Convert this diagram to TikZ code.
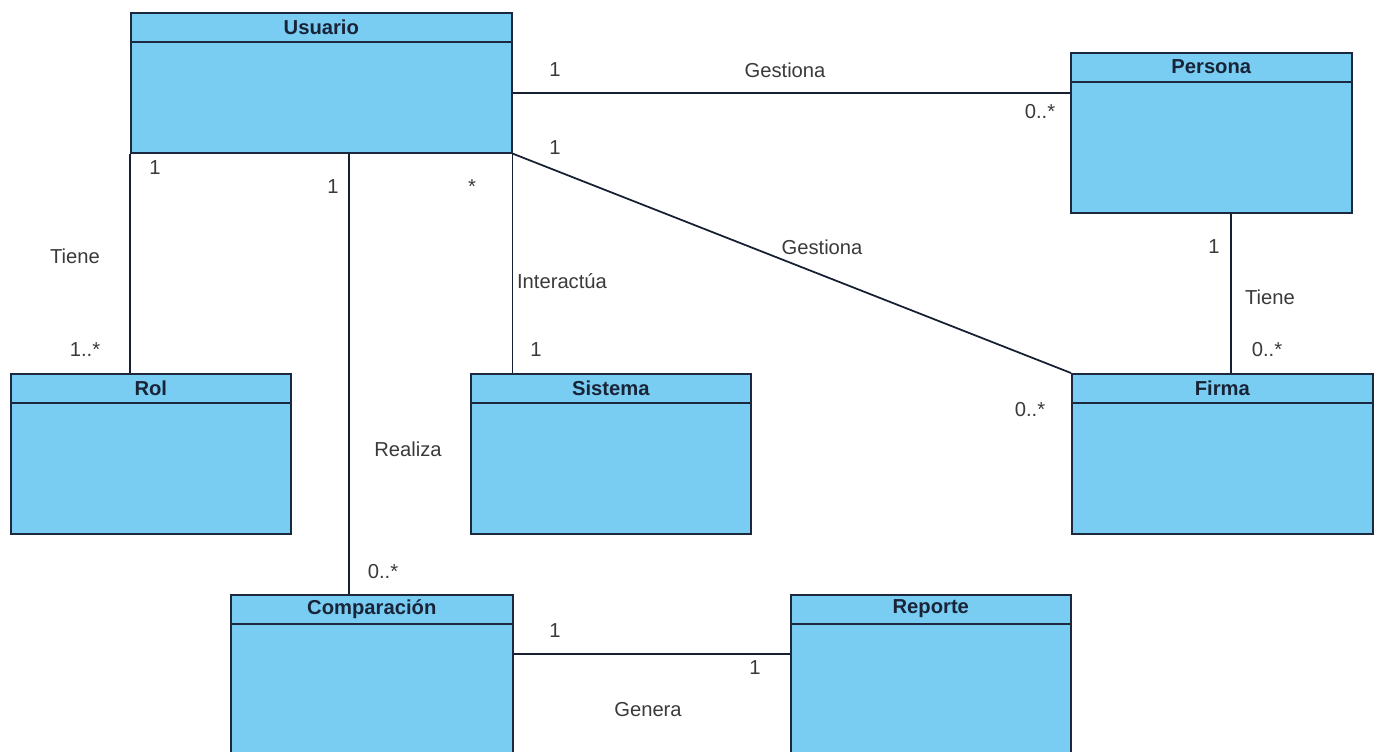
\documentclass[tikz,border=0pt]{standalone}
\usepackage{fontspec}
\setmainfont{Liberation Sans}
\usetikzlibrary{positioning}

\definecolor{relleno}{RGB}{121,205,242}
\definecolor{borde}{RGB}{28,40,62}
\definecolor{texto}{RGB}{58,58,58}

\tikzset{
	clase/.style={draw=borde, fill=relleno, line width=0.9pt, rectangle, anchor=north west, inner sep=0pt},
	titulo/.style={font=\fontsize{11.5}{13}\selectfont\bfseries, text=borde!90!black},
	etiqueta/.style={font=\fontsize{11.5}{13}\selectfont, text=texto},
	asoc/.style={draw=borde!80!black, line width=1pt}
}

\begin{document}
\begin{tikzpicture}[x=0.02cm, y=-0.02cm]
	\useasboundingbox (0,0) rectangle (1378,751);
	\clip (0,0) rectangle (1378,751);

	% clases: nombre / x / y / ancho / alto / titulo
	\foreach \n/\x/\y/\w/\h/\t in {usuario/130/12/381/140/Usuario,
		persona/1070/52/281/160/Persona,
		rol/10/373/280/160/Rol,
		sistema/470/373/280/160/Sistema,
		firma/1071/373/301/160/Firma,
		comparacion/230/594/282/170/Comparación,
		reporte/790/594/280/170/Reporte} {
		\node[clase, minimum width=\w*0.02cm, minimum height=\h*0.02cm] (\n) at (\x,\y) {};
		\draw[draw=borde, line width=0.9pt] (\n.north west) ++(0,30) -- ++(\w,0);
		\node[titulo] (\n-titulo) at ([yshift=-0.3cm]\n.north) {\t};
	}

	% asociaciones
	\draw[asoc] ([yshift=-0.2cm]usuario.east) coordinate (gp) -- (gp -| persona.west);
	\draw[asoc] (usuario.south east) -- (firma.north west);
	\draw[asoc] (usuario.south west) -- (usuario.south west |- rol.north);
	\path (usuario.south west) ++(219,0) coordinate (uc);
	\draw[asoc] (uc) -- (uc |- comparacion.north);
	\draw[asoc] (usuario.south east) -- (usuario.south east |- sistema.north);
	\draw[asoc] ([xshift=0.4cm]persona.south) coordinate (pf) -- (pf |- firma.north);
	\draw[asoc] ([yshift=-1.2cm]comparacion.north east) coordinate (cr) -- (cr -| reporte.west);

	% multiplicidades y nombres
	\foreach \x/\y/\t [count=\i] in {555/70/1, 785/70/Gestiona, 1040/112/0..*,
		555/148/1, 822/247/Gestiona, 1030/410/0..*,
		155/168/1, 75/256/Tiene, 85/350/1..*,
		333/187/1, 408/449/Realiza, 383/572/0..*,
		472/187/*, 562/281/Interactúa, 536/350/1,
		1214/247/1, 1270/297/Tiene, 1267/350/0..*,
		555/631/1, 755/668/1, 648/710/Genera} {
		\node[etiqueta] (lab\i) at (\x,\y) {\t};
	}
\end{tikzpicture}
\end{document}
